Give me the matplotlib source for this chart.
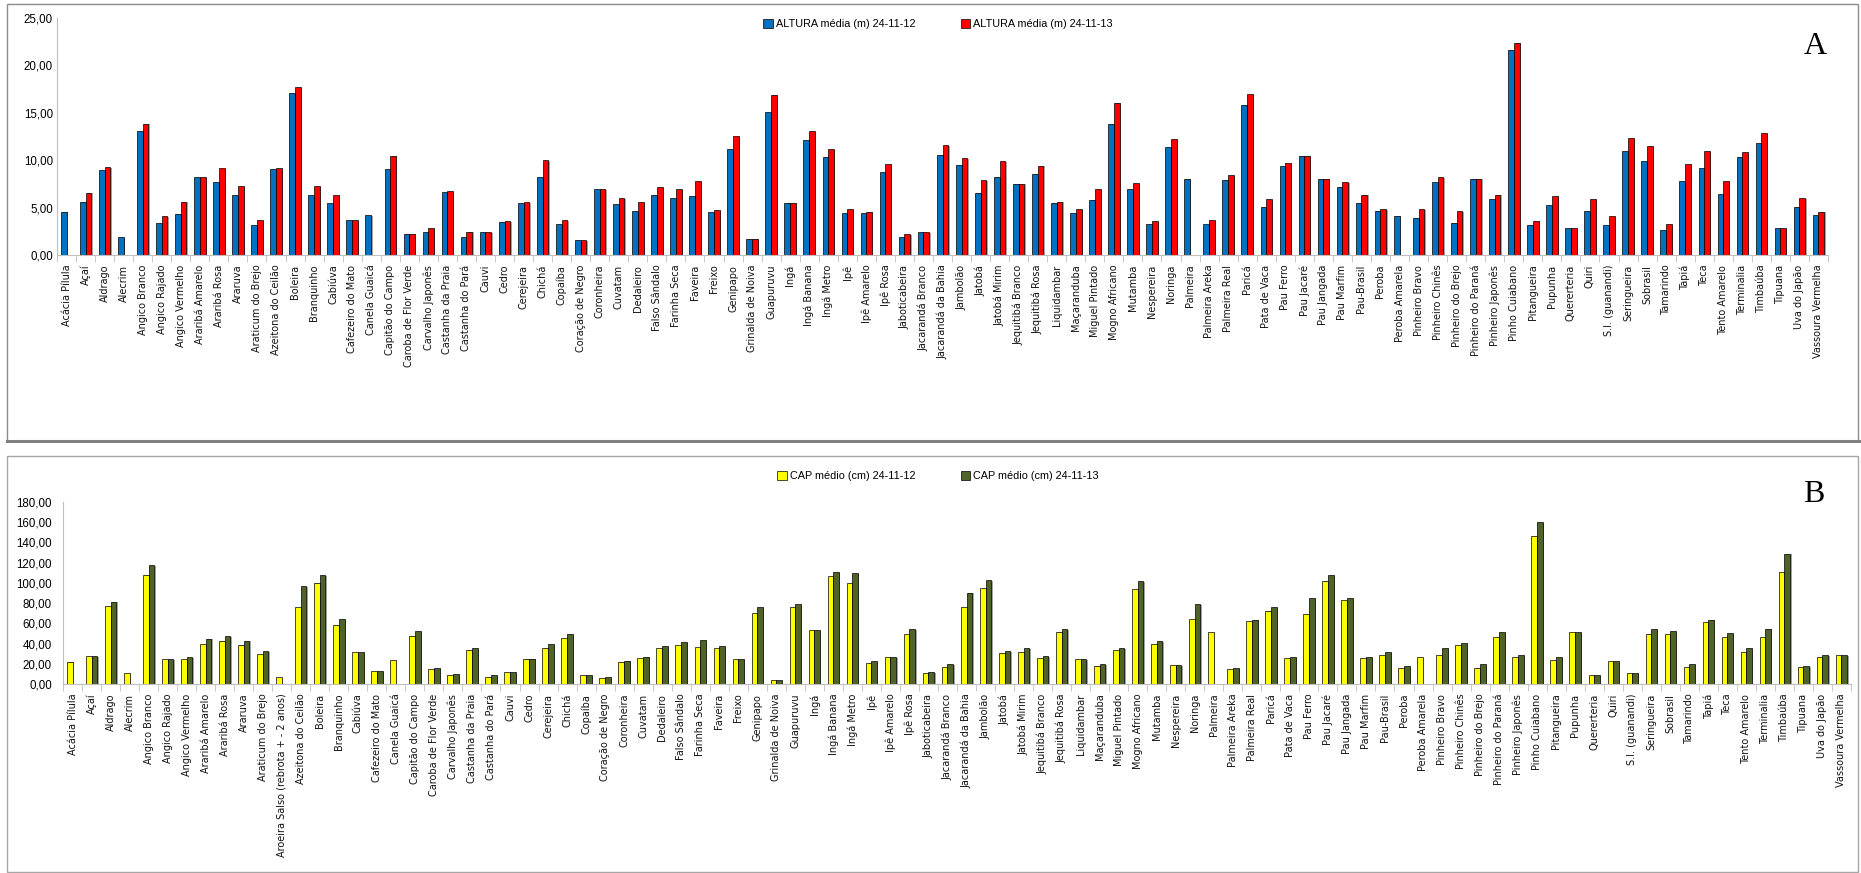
import numpy as np
import matplotlib
matplotlib.use("Agg")
import matplotlib.pyplot as plt
import matplotlib.patheffects as pe
from matplotlib.patches import Rectangle, Patch
from matplotlib.lines import Line2D
from matplotlib.ticker import FuncFormatter

# espécies do gráfico A (altura)
especies_a = [
    "Acácia Pílula", "Açaí", "Aldrago", "Alecrim", "Angico Branco", "Angico Rajado",
    "Angico Vermelho", "Araribá Amarelo", "Araribá Rosa", "Araruva", "Araticum do Brejo",
    "Azeitona do Ceilão", "Boleira", "Branquinho", "Cabiúva", "Cafezeiro do Mato",
    "Canela Guaicá", "Capitão do Campo", "Caroba de Flor Verde", "Carvalho Japonês",
    "Castanha da Praia", "Castanha do Pará", "Cauvi", "Cedro", "Cerejeira", "Chichá",
    "Copaíba", "Coração de Negro", "Coronheira", "Cuvatam", "Dedaleiro", "Falso Sândalo",
    "Farinha Seca", "Faveira", "Freixo", "Genipapo", "Grinalda de Noiva", "Guapuruvu",
    "Ingá", "Ingá Banana", "Ingá Metro", "Ipê", "Ipê Amarelo", "Ipê Rosa", "Jaboticabeira",
    "Jacarandá Branco", "Jacarandá da Bahia", "Jambolão", "Jatobá", "Jatobá Mirim",
    "Jequitibá Branco", "Jequitibá Rosa", "Liquidambar", "Maçaranduba", "Miguel Pintado",
    "Mogno Africano", "Mutamba", "Nespereira", "Noringa", "Palmeira", "Palmeira Areka",
    "Palmeira Real", "Paricá", "Pata de Vaca", "Pau Ferro", "Pau Jacaré", "Pau Jangada",
    "Pau Marfim", "Pau-Brasil", "Peroba", "Peroba Amarela", "Pinheiro Bravo",
    "Pinheiro Chinês", "Pinheiro do Brejo", "Pinheiro do Paraná", "Pinheiro Japonês",
    "Pinho Cuiabano", "Pitangueira", "Pupunha", "Quererteria", "Quiri", "S.I. (guanandi)",
    "Seringueira", "Sobrasil", "Tamarindo", "Tapiá", "Teca", "Tento Amarelo", "Terminalia",
    "Timbaúba", "Tipuana", "Uva do Japão", "Vassoura Vermelha",
]

# gráfico B tem uma espécie a mais
especies_b = especies_a[:11] + ["Aroeira Salso (rebrota + - 2 anos)"] + especies_a[11:]

nan = np.nan

altura_2012 = [
    4.58, 5.63, 8.98, 1.90, 13.10, 3.38, 4.37, 8.24, 7.71, 6.34,
    3.17, 9.08, 17.10, 6.34, 5.49, 3.70, 4.23, 9.08, 2.25, 2.43,
    6.65, 1.90, 2.43, 3.52, 5.49, 8.24, 3.27, 1.58, 6.97, 5.39,
    4.65, 6.37, 6.02, 6.23, 4.54, 11.13, 1.73, 15.10, 5.53, 12.08,
    10.39, 4.44, 4.44, 8.77, 1.90, 2.43, 10.60, 9.54, 6.58, 8.27,
    7.54, 8.59, 5.53, 4.44, 5.85, 13.87, 6.97, 3.27, 11.34, 8.06,
    3.27, 7.96, 15.85, 5.10, 9.40, 10.49, 8.06, 7.22, 5.53, 4.68,
    4.15, 3.94, 7.71, 3.42, 8.06, 5.92, 21.65, 3.20, 5.28, 2.85,
    4.65, 3.17, 10.99, 9.93, 2.64, 7.82, 9.19, 6.44, 10.39, 11.83,
    2.85, 5.10, 4.23,
]

altura_2013 = [
    nan, 6.58, 9.30, nan, 13.84, 4.12, 5.63, 8.24, 9.19, 7.29,
    3.70, 9.19, 17.68, 7.29, 6.34, 3.70, nan, 10.49, 2.25, 2.85,
    6.76, 2.46, 2.43, 3.59, 5.60, 10.04, 3.70, 1.58, 6.97, 6.02,
    5.60, 7.18, 6.97, 7.82, 4.75, 12.57, 1.73, 16.90, 5.53, 13.10,
    11.13, 4.86, 4.58, 9.61, 2.22, 2.43, 11.62, 10.18, 7.92, 9.93,
    7.54, 9.44, 5.63, 4.86, 6.97, 16.06, 7.60, 3.59, 12.25, nan,
    3.70, 8.45, 17.00, 5.92, 9.72, 10.49, 8.06, 7.71, 6.37, 4.86,
    nan, 4.86, 8.24, 4.65, 8.06, 6.37, 22.39, 3.63, 6.23, 2.85,
    5.92, 4.12, 12.36, 11.51, 3.27, 9.61, 10.92, 7.82, 10.88, 12.82,
    2.85, 6.02, 4.58,
]

cap_2012 = [
    22.1, 27.7, 77.2, 10.9, 108.1, 24.7, 24.7, 39.6, 42.9, 38.9,
    29.7, 6.9, 76.2, 100.2, 58.7, 31.7, 12.9, 23.7, 47.8, 14.8,
    8.9, 34.0, 7.3, 11.9, 25.1, 35.9, 45.5, 8.9, 5.9, 22.1,
    25.7, 35.6, 38.6, 36.6, 35.6, 24.7, 70.2, 3.6, 76.2, 53.4,
    106.8, 99.9, 20.8, 26.7, 49.5, 10.9, 16.8, 76.2, 95.0, 31.0,
    31.7, 25.7, 51.8, 24.7, 18.1, 33.6, 94.0, 39.6, 18.8, 64.3,
    51.4, 14.8, 62.3, 72.5, 25.7, 69.6, 102.2, 83.1, 25.7, 28.7,
    15.8, 26.7, 28.7, 38.6, 16.2, 46.5, 26.7, 146.7, 23.7, 51.4,
    8.9, 22.7, 10.9, 49.8, 49.5, 16.8, 61.3, 46.5, 31.7, 46.5,
    110.8, 16.8, 27.0, 28.7,
]

cap_2013 = [
    nan, 27.7, 81.4, nan, 117.7, 24.7, 26.7, 44.8, 47.5, 42.9,
    32.6, nan, 96.9, 107.8, 64.3, 31.7, 12.9, nan, 52.4, 15.8,
    9.9, 35.6, 8.9, 11.9, 25.1, 39.6, 49.5, 8.9, 6.9, 23.1,
    27.0, 37.6, 41.5, 43.5, 37.6, 24.7, 76.2, 3.6, 79.1, 53.4,
    110.8, 109.8, 22.7, 26.7, 54.4, 11.9, 19.8, 90.3, 102.9, 32.6,
    35.6, 27.7, 54.4, 24.7, 19.8, 35.6, 101.9, 42.5, 18.8, 79.1,
    nan, 15.8, 63.6, 76.2, 26.7, 85.1, 107.8, 85.1, 26.7, 31.7,
    17.8, nan, 35.6, 40.6, 19.8, 51.4, 28.7, 160.2, 26.7, 51.4,
    8.9, 22.7, 10.9, 54.4, 52.4, 19.8, 63.6, 50.4, 35.6, 54.7,
    128.9, 17.8, 28.7, 28.7,
]

plt.rcParams['font.family'] = ['DejaVu Sans']

cinza = '#BFBFBF'
virgula = FuncFormatter(lambda v, p: f"{v:.2f}".replace('.', ','))


def desenhar_painel(ax, especies, serie1, serie2, cor1, cor2, ymax, passo, pad_y):
    n = len(especies)
    x = np.arange(n)
    w = 0.3
    sombra = [pe.SimplePatchShadow(offset=(1.0, -0.5), shadow_rgbFace='0.6', alpha=0.9), pe.Normal()]
    ax.bar(x - w / 2, serie1, w, color=cor1, edgecolor='black', linewidth=0.5, path_effects=sombra)
    ax.bar(x + w / 2, serie2, w, color=cor2, edgecolor='black', linewidth=0.5, path_effects=sombra)

    ax.set_xlim(-0.5, n - 0.5)
    ax.set_ylim(0, ymax)
    ax.set_yticks(np.arange(0, ymax + passo / 2, passo))
    ax.yaxis.set_major_formatter(virgula)

    ax.set_xticks(x)
    ax.set_xticklabels(especies, rotation=90, fontsize=7, va='top', ha='center', color='#111111')
    ax.set_xticks(np.arange(-0.5, n, 1), minor=True)
    ax.tick_params(axis='x', which='major', length=0, pad=7)
    ax.tick_params(axis='x', which='minor', length=5, color=cinza, direction='out')
    ax.tick_params(axis='y', length=0, pad=pad_y, labelsize=8.3)
    for lab in ax.get_yticklabels():
        lab.set_family(['Liberation Sans', 'DejaVu Sans'])

    for lado in ['top', 'right']:
        ax.spines[lado].set_visible(False)
    ax.spines['left'].set_color(cinza)
    ax.spines['bottom'].set_color(cinza)
    ax.set_facecolor('none')


fig = plt.figure(figsize=(18.61, 8.73), dpi=100)

# caixas dos dois painéis
fig.add_artist(Rectangle((7 / 1861, 1 - 441 / 873), 1851 / 1861, 437 / 873,
                         transform=fig.transFigure, fill=False, edgecolor='#8C8C8C', lw=1.0))
fig.add_artist(Line2D([7 / 1861, 1.0], [1 - 441 / 873] * 2, transform=fig.transFigure,
                      color='#808080', lw=2.2))
fig.add_artist(Rectangle((7 / 1861, 1 - 872 / 873), 1851 / 1861, 416 / 873,
                         transform=fig.transFigure, fill=False, edgecolor='#A6A6A6', lw=1.0))

ax_a = fig.add_axes([57 / 1861, 1 - 255 / 873, (1828 - 57) / 1861, (255 - 18) / 873])
desenhar_painel(ax_a, especies_a, altura_2012, altura_2013, '#0070C0', '#FF0000', 25, 5, 3)

ax_b = fig.add_axes([63 / 1861, 1 - 684 / 873, (1851 - 63) / 1861, (684 - 502) / 873])
desenhar_painel(ax_b, especies_b, cap_2012, cap_2013, '#FFFF00', '#4F6228', 180, 20, 8)

legendas = [
    ('#0070C0', '#FF0000', 'ALTURA média (m) 24-11-12', 'ALTURA média (m) 24-11-13', 1 - 24 / 873),
    ('#FFFF00', '#4F6228', 'CAP médio (cm) 24-11-12', 'CAP médio (cm) 24-11-13', 1 - 476 / 873),
]
for c1, c2, r1, r2, yl in legendas:
    h = [Patch(facecolor=c1, edgecolor='black', lw=0.5), Patch(facecolor=c2, edgecolor='black', lw=0.5)]
    fig.legend(h, [r1, r2], loc='center', bbox_to_anchor=(938 / 1861, yl), ncol=2, frameon=False,
               handlelength=0.9, handleheight=0.9, handletextpad=0.25,
               columnspacing=4.2, prop={'family': ['Liberation Sans', 'DejaVu Sans'], 'size': 7.8})

fig.text(1815 / 1861, 1 - 46 / 873, 'A', fontsize=23, family=['Liberation Serif', 'DejaVu Serif'],
         ha='center', va='center')
fig.text(1814 / 1861, 1 - 495 / 873, 'B', fontsize=23, family=['Liberation Serif', 'DejaVu Serif'],
         ha='center', va='center')

fig.savefig('out.png', dpi=100, facecolor='white')
